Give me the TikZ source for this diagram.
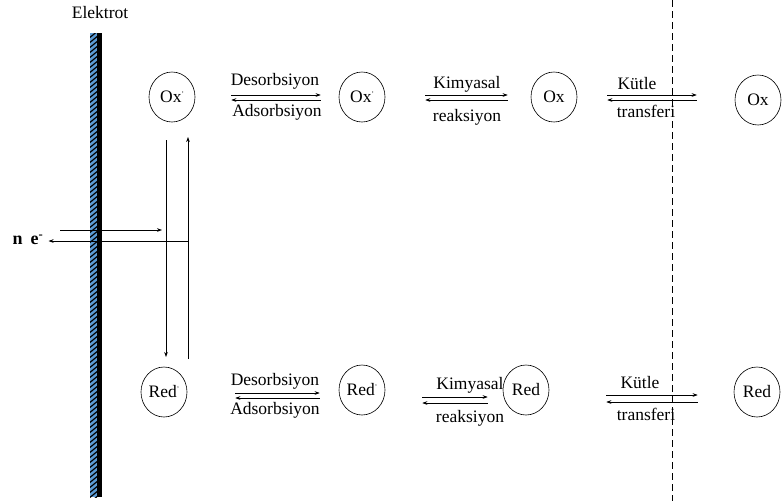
\documentclass[tikz,border=0pt]{standalone}
\usepackage{fontspec}
\setmainfont{Liberation Serif}
\usetikzlibrary{arrows.meta,shapes.geometric}
\definecolor{elblue}{HTML}{5B9BD5}
\newcommand{\pr}{\raisebox{6pt}{\fontsize{7}{7}\selectfont'}}
\begin{document}
\begin{tikzpicture}[x=1pt,y=-1pt,
  sp/.style={draw, ellipse, line width=0.6pt, minimum width=46pt, minimum height=50pt, inner sep=0pt, font=\fontsize{17.5}{19}\selectfont},
  lbl/.style={inner sep=0pt, font=\fontsize{17.5}{19}\selectfont},
  arr/.style={-{Stealth[length=5pt,width=3.6pt]}, line width=0.6pt}]
\useasboundingbox (0,0) rectangle (784,501);
% electrode
\fill[elblue] (90,33) rectangle (97,497);
\begin{scope}
\clip (90,33) rectangle (97,497);
\foreach \i in {0,...,95} \draw[line width=1.2pt] (88,{33+5*\i+6}) -- (99,{33+5*\i-3});
\end{scope}
\fill (97,33) rectangle (101.5,497);
\node[lbl] (el) at (100,13) {Elektrot};
% dashed line
\draw[dash pattern=on 7pt off 4pt, line width=0.6pt] (672,0) -- (672,501);
% top row
\node[sp] (ox1) at (172,97) {Ox\pr};
\node[sp] (ox2) at (362,97) {Ox\pr};
\node[sp] (ox3) at (554,97) {Ox};
\node[sp] (ox4) at (758,100) {Ox};
\draw[arr] ([xshift=36pt]ox1.east |- 0,95) -- ([xshift=-18pt]ox2.west |- 0,95);
\draw[arr] ([xshift=-18pt]ox2.west |- 0,100) -- ([xshift=36pt]ox1.east |- 0,100);
\node[lbl] (d1) at (275,81) {Desorbsiyon};
\node[lbl] (a1) at (277,112) {Adsorbsiyon};
\draw[arr] ([xshift=40pt]ox2.east |- 0,95) -- ([xshift=-23pt]ox3.west |- 0,95);
\draw[arr] ([xshift=-23pt]ox3.west |- 0,100) -- ([xshift=40pt]ox2.east |- 0,100);
\node[lbl] (k1) at (467,84) {Kimyasal};
\node[lbl] (r1) at (467,117) {reaksiyon};
\draw[arr] ([xshift=30pt]ox3.east |- 0,95) -- ([xshift=-38pt]ox4.west |- 0,95);
\draw[arr] ([xshift=-38pt]ox4.west |- 0,100) -- ([xshift=30pt]ox3.east |- 0,100);
\node[lbl] (ku1) at (637,84) {Kütle};
\node[lbl] (t1) at (646,111) {transferi};
% bottom row
\node[sp] (rd1) at (164,392) {Red\pr};
\node[sp] (rd2) at (362,390) {Red\pr};
\node[sp] (rd3) at (526,390) {Red};
\node[sp] (rd4) at (757,392) {Red};
\draw[arr] ([xshift=48pt]rd1.east |- 0,393) -- ([xshift=-19pt]rd2.west |- 0,393);
\draw[arr] ([xshift=-19pt]rd2.west |- 0,398) -- ([xshift=48pt]rd1.east |- 0,398);
\node[lbl] (d2) at (275,381) {Desorbsiyon};
\node[lbl] (a2) at (275,410) {Adsorbsiyon};
\draw[arr] ([xshift=37pt]rd2.east |- 0,397) -- ([xshift=-15pt]rd3.west |- 0,397);
\draw[arr] ([xshift=-15pt]rd3.west |- 0,403) -- ([xshift=37pt]rd2.east |- 0,403);
\node[lbl] (k2) at (470,385) {Kimyasal};
\node[lbl] (r2) at (470,418) {reaksiyon};
\draw[arr] ([xshift=57pt]rd3.east |- 0,395) -- ([xshift=-36pt]rd4.west |- 0,395);
\draw[arr] ([xshift=-36pt]rd4.west |- 0,402) -- ([xshift=57pt]rd3.east |- 0,402);
\node[lbl] (ku2) at (640,383) {Kütle};
\node[lbl] (t2) at (646,414) {transferi};
% vertical arrows
\coordinate (vd1) at (166,140);
\coordinate (vd2) at (166,357);
\coordinate (vu1) at (188,359);
\coordinate (vu2) at (188,137);
\draw[arr] (vd1) -- (vd2);
\draw[arr] (vu1) -- (vu2);
% electron arrows
\node[inner sep=0pt, font=\fontsize{18}{20}\selectfont\bfseries] (ne) at (28,240) {n\hspace{8pt}e\textsuperscript{-}};
\coordinate (h1) at (60,230);
\coordinate (h2) at (162,230);
\coordinate (h3) at (188,241);
\draw[arr] (h1) -- (h2);
\draw[arr] (h3) -- ([xshift=5pt]ne.east |- 0,241);
\end{tikzpicture}
\end{document}
